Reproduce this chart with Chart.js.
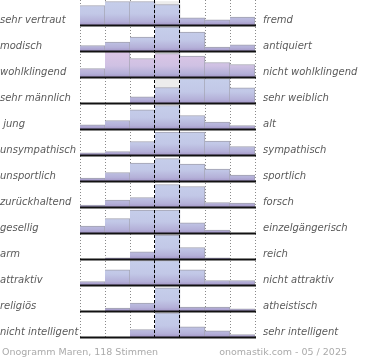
<!DOCTYPE html>
<html>
<head>
<meta charset="utf-8">
<script src="https://cdn.jsdelivr.net/npm/chart.js@4.4.1/dist/chart.umd.min.js"></script>
<style>
  html, body { margin: 0; padding: 0; background: #fff; }
</style>
</head>
<body>
<canvas id="chart" width="370" height="360"></canvas>
<script>
const leftLabels = ["sehr vertraut", "modisch", "wohlklingend", "sehr männlich", " jung", "unsympathisch",
  "unsportlich", "zurückhaltend", "gesellig", "arm", "attraktiv", "religiös", "nicht intelligent"];
const rightLabels = ["fremd", "antiquiert", "nicht wohlklingend", "sehr weiblich", "alt", "sympathisch",
  "sportlich", "forsch", "einzelgängerisch", "reich", "nicht attraktiv", "atheistisch", "sehr intelligent"];
const steps = ["1", "2", "3", "4", "5", "6", "7"];

// bar heights per row (row maximum ≈ 25)
const rowValues = [
  [20, 24, 24, 21, 7.7, 5.7, 8.3],
  [6, 9.3, 14.3, 24.3, 19.3, 4.3, 6.7],
  [9, 26, 19, 24, 21.5, 15, 13],
  [0, 0, 6.6, 16, 25, 25, 15.6],
  [4.7, 9, 19.7, 24, 14, 7.3, 4],
  [2.7, 4, 14, 23.3, 23.3, 14.3, 9],
  [3.4, 9, 18.4, 23, 17.4, 12.4, 6.4],
  [2.4, 7.4, 10, 23, 21, 5, 4.4],
  [7.3, 15, 23.3, 23.3, 10.6, 3.3, 0],
  [0, 1.6, 7.6, 24.3, 12, 1.6, 0],
  [4, 15.7, 25, 25, 15.7, 5, 5],
  [0, 3.3, 8.3, 23.7, 4.3, 4.3, 2.7],
  [0, 0, 8, 24.6, 10.6, 6.6, 3],
];
const highlightRow = 2;
const footerLeft = "Onogramm Maren, 118 Stimmen";
const footerRight = "onomastik.com - 05 / 2025";

const ROW = 26;
const base = i => ROW * i + 25.5;
const CENTER = 3;

const gradCache = {};
function barFill(row) {
  return ctx => {
    const ch = ctx.chart;
    if (!ch.chartArea) return "#c5cce8";
    const key = row + ":" + ch.chartArea.bottom;
    if (gradCache[key]) return gradCache[key];
    const y = ch.scales.y;
    const top = y.getPixelForValue(base(row) - ROW);
    const bot = y.getPixelForValue(base(row));
    const g = ch.ctx.createLinearGradient(0, top, 0, bot);
    if (row === highlightRow) {
      g.addColorStop(0, "#ddc6e6");
      g.addColorStop(0.55, "#cfc1e3");
    } else {
      g.addColorStop(0, "#c6cfeb");
      g.addColorStop(0.55, "#c2c8e7");
    }
    g.addColorStop(0.85, "#b4b0d8");
    g.addColorStop(1, "#a293c6");
    gradCache[key] = g;
    return g;
  };
}

const datasets = rowValues.map((vals, i) => ({
  data: vals.map(v => v > 0 ? [base(i) - v, base(i)] : null),
  backgroundColor: barFill(i),
  borderColor: "#a2a2b0",
  borderWidth: { top: 1, right: 1, left: 0, bottom: 0 },
  borderSkipped: false,
  grouped: false,
  barPercentage: 1,
  categoryPercentage: 1,
  order: 0,
}));

// light grey backdrop of the middle column up to the row maximum
rowValues.forEach((vals, i) => {
  const mx = Math.max(...vals);
  if (mx > vals[CENTER]) {
    datasets.push({
      data: steps.map((s, j) => j === CENTER ? [base(i) - mx, base(i)] : null),
      backgroundColor: "#ececec",
      borderWidth: 0,
      grouped: false,
      barPercentage: 1,
      categoryPercentage: 1,
      order: 1,
    });
  }
});

function colEdges(chart) {
  const x = chart.scales.x;
  const half = (x.getPixelForValue(1) - x.getPixelForValue(0)) / 2;
  const edges = [];
  for (let j = 0; j <= steps.length; j++) edges.push(x.getPixelForValue(j) - half);
  return edges;
}

const decor = {
  id: "decor",
  beforeDatasetsDraw(chart) {
    const { ctx, chartArea: a } = chart;
    const edges = colEdges(chart);
    ctx.save();
    ctx.strokeStyle = "#8a8a8a";
    ctx.lineWidth = 1;
    ctx.setLineDash([1, 2]);
    edges.forEach((px, j) => {
      if (j === CENTER || j === CENTER + 1) return;
      ctx.beginPath();
      ctx.moveTo(Math.round(px) + 0.5, a.top);
      ctx.lineTo(Math.round(px) + 0.5, a.bottom);
      ctx.stroke();
    });
    ctx.restore();
  },
  afterDatasetsDraw(chart) {
    const { ctx, chartArea: a } = chart;
    const y = chart.scales.y;
    const edges = colEdges(chart);
    ctx.save();
    ctx.strokeStyle = "#000";
    ctx.lineWidth = 1;
    ctx.setLineDash([3, 2]);
    [CENTER, CENTER + 1].forEach(j => {
      const px = Math.round(edges[j]) - 0.5;
      ctx.beginPath();
      ctx.moveTo(px, a.top);
      ctx.lineTo(px, a.bottom);
      ctx.stroke();
    });
    ctx.setLineDash([]);
    ctx.lineWidth = 2;
    ctx.strokeStyle = "#111";
    rowValues.forEach((v, i) => {
      const py = y.getPixelForValue(base(i));
      ctx.beginPath();
      ctx.moveTo(edges[0], py);
      ctx.lineTo(edges[steps.length] + 1, py);
      ctx.stroke();
    });

    ctx.fillStyle = "#5a5a5a";
    ctx.font = "italic 10px 'DejaVu Sans'";
    ctx.textBaseline = "middle";
    ctx.textAlign = "left";
    rowValues.forEach((v, i) => {
      const py = y.getPixelForValue(base(i)) - 5.5;
      ctx.fillText(leftLabels[i], 0, py);
      ctx.fillText(rightLabels[i], 263, py);
    });

    ctx.fillStyle = "#aaa";
    ctx.font = "9.5px 'DejaVu Sans'";
    ctx.fillText(footerLeft, 2, 352.5);
    ctx.textAlign = "right";
    ctx.fillText(footerRight, 347, 352.5);
    ctx.restore();
  },
};

new Chart(document.getElementById("chart"), {
  type: "bar",
  data: { labels: steps, datasets },
  options: {
    responsive: false,
    animation: false,
    devicePixelRatio: 1,
    layout: { padding: { left: 80, right: 115, top: 0, bottom: 22 } },
    plugins: { legend: { display: false }, tooltip: { enabled: false } },
    scales: {
      x: { display: false },
      y: { display: false, reverse: true, min: 0, max: ROW * rowValues.length },
    },
  },
  plugins: [decor],
});
</script>
</body>
</html>
